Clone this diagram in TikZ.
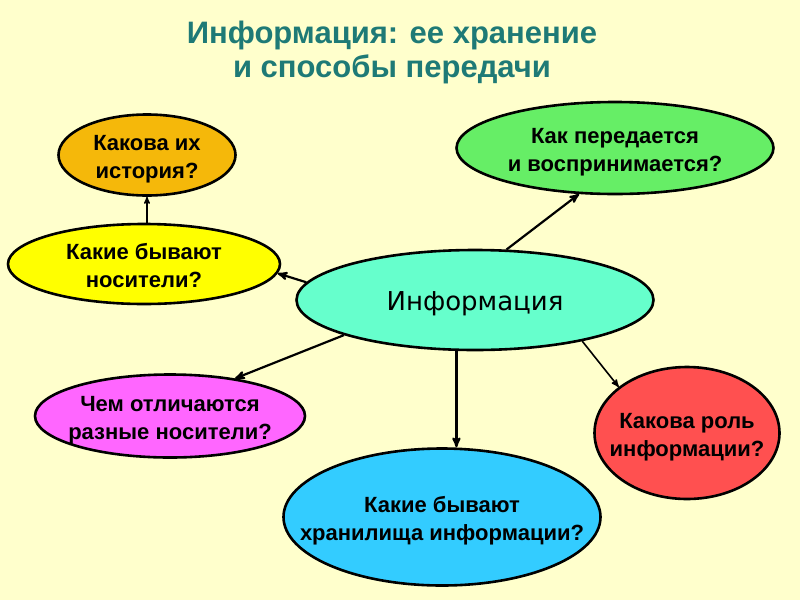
\documentclass[tikz,border=0pt]{standalone}
\usepackage{fontspec}
\setmainfont{Liberation Sans}
\newfontfamily\infofont{DejaVu Sans}
\usetikzlibrary{shapes,arrows,positioning}
\definecolor{paper}{RGB}{255,255,204}
\definecolor{titleteal}{RGB}{30,122,118}
\definecolor{histfill}{RGB}{245,184,10}
\definecolor{transfill}{RGB}{102,238,102}
\definecolor{mediafill}{RGB}{255,255,0}
\definecolor{infofill}{RGB}{102,255,204}
\definecolor{difffill}{RGB}{255,102,255}
\definecolor{rolefill}{RGB}{255,80,80}
\definecolor{storefill}{RGB}{51,204,255}
\newcommand{\bubbletext}[2][4.5pt]{\smash{\makebox[0pt]{\raisebox{#1}{\begin{tabular}[t]{@{}c@{}}#2\end{tabular}}}}}
\tikzset{
  bubble/.style={
    ellipse,
    draw=black, line width=2.6pt,
    inner sep=0pt,
    font=\bfseries\fontsize{22}{28}\selectfont
  },
}

\begin{document}
\begin{tikzpicture}[->,>=stealth',x=1pt,y=-1pt]

\fill[-,paper] (0,0) rectangle (800,600);
\useasboundingbox (0,0) rectangle (800,600);

\node[text=titleteal, font=\bfseries\fontsize{31}{34}\selectfont, align=center, inner sep=0pt] (TITLE) at (392,52) {Информация: ее хранение\\и способы передачи};

\node[bubble, fill=infofill, minimum width=357pt, minimum height=100pt, font=\infofont\fontsize{26}{30}\selectfont] (INFO) at (475,300) {\bubbletext[-10pt]{Информация}};

\node[bubble, fill=histfill, minimum width=177pt, minimum height=81pt, above left=145pt and 328pt of INFO.center, anchor=center] (HISTORY) {\bubbletext{Какова их\\история?}};
\node[bubble, fill=transfill, minimum width=317pt, minimum height=92pt, above right=152pt and 140pt of INFO.center, anchor=center] (TRANSFER) {\bubbletext{Как передается\\и воспринимается?}};
\node[bubble, fill=mediafill, minimum width=272pt, minimum height=80pt, above left=36pt and 331pt of INFO.center, anchor=center] (MEDIA) {\bubbletext{Какие бывают\\носители?}};
\node[bubble, fill=difffill, minimum width=270pt, minimum height=83pt, below left=116pt and 305pt of INFO.center, anchor=center] (DIFF) {\bubbletext{Чем отличаются\\разные носители?}};
\node[bubble, fill=rolefill, minimum width=185pt, minimum height=132pt, below right=133pt and 212pt of INFO.center, anchor=center] (ROLE) {\bubbletext{Какова роль\\информации?}};
\node[bubble, fill=storefill, minimum width=317pt, minimum height=137pt, below left=217pt and 33pt of INFO.center, anchor=center] (STORE) {\bubbletext{Какие бывают\\хранилища информации?}};

% arrows from the centre
\draw [line width=2.2pt] (INFO.58) -- (TRANSFER.232);
\draw [line width=2.2pt] (INFO.174) -- (MEDIA.356);
\draw [line width=2.2pt] (INFO.195) -- (DIFF.30);
\draw [line width=2.2pt] (INFO.250) -- (INFO.250 |- STORE.north);
\draw [line width=1.6pt] (INFO.339) -- (ROLE.146);
\draw [line width=1.4pt] (HISTORY.south |- MEDIA.north) -- (HISTORY.south);

\end{tikzpicture}
\end{document}
